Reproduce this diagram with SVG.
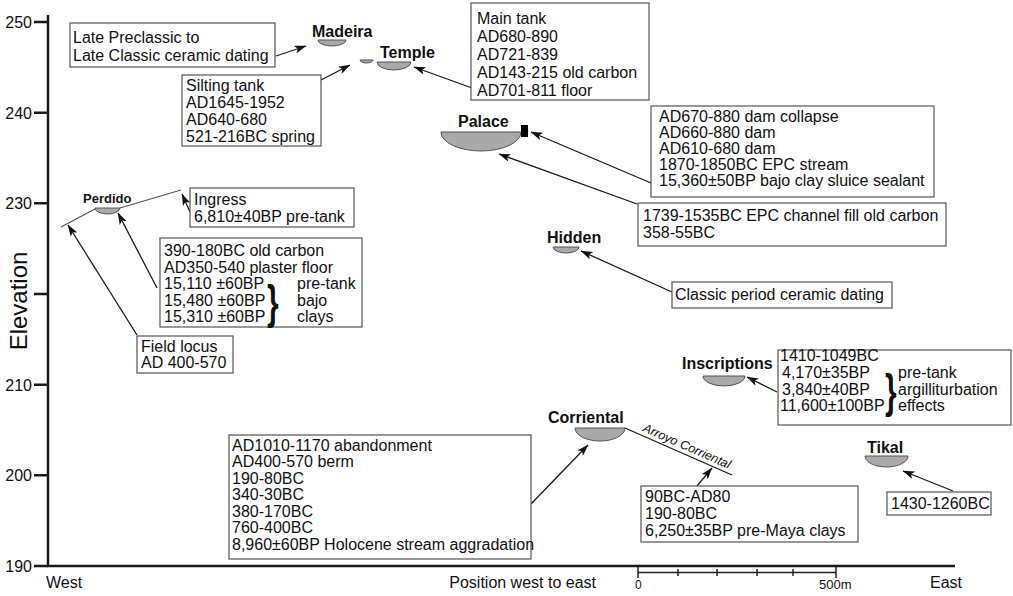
<svg xmlns="http://www.w3.org/2000/svg" width="1013" height="596" viewBox="0 0 1013 596">
<defs>
<style>
text{font-family:"Liberation Sans",Arial,sans-serif;font-size:16px;fill:#111}
.b{font-weight:bold}
.br{font-weight:bold;font-size:46px}
.box{fill:#fff;stroke:#555;stroke-width:1.2}
.tank{fill:#a9a9a9;stroke:#555;stroke-width:1}
.ax{stroke:#1a1a1a;stroke-width:2.5;fill:none}
.c{stroke:#1a1a1a;stroke-width:1.3;fill:none}
.a{marker-end:url(#ah)}
.tl{text-anchor:end}
</style>
<marker id="ah" viewBox="0 0 12 8" refX="11.5" refY="4" markerWidth="12" markerHeight="8" markerUnits="userSpaceOnUse" orient="auto">
<path d="M0,0 L12,4 L0,8 L3,4 Z" fill="#111"/>
</marker>
</defs>

<g id="axes">
<path class="ax" d="M48,15 V566 H955"/>
<path class="ax" d="M34,22 H48 M34,112.7 H48 M34,203.3 H48 M34,294 H48 M34,384.7 H48 M34,475.3 H48 M34,566 H48"/>
<text class="tl" x="32" y="28">250</text>
<text class="tl" x="32" y="118.7">240</text>
<text class="tl" x="32" y="209.3">230</text>
<text class="tl" x="32" y="390.7">210</text>
<text class="tl" x="32" y="481.3">200</text>
<text class="tl" x="32" y="572">190</text>
<text x="0" y="0" transform="translate(27,301) rotate(-90)" style="font-size:24px;text-anchor:middle">Elevation</text>
<text x="46" y="588">West</text>
<text class="tl" x="596" y="588">Position west to east</text>
<text x="930" y="588">East</text>
<g id="scalebar">
<path d="M638,572.5 H836 M638,567 V578 M836,567 V578 M678,569 V576 M717,569 V576 M757,569 V576 M793,569 V576" stroke="#222" stroke-width="1.5" fill="none"/>
<text x="635" y="589" style="font-size:12px">0</text>
<text x="819" y="589" style="font-size:13px">500m</text>
</g>
</g>

<g id="connectors">
<line class="c a" x1="276" y1="56" x2="306" y2="46"/>
<line class="c a" x1="321" y1="80" x2="350" y2="65"/>
<line class="c a" x1="472" y1="88" x2="414" y2="67"/>
<line class="c a" x1="651" y1="183" x2="531" y2="132"/>
<line class="c a" x1="637" y1="204" x2="499" y2="154"/>
<line class="c a" x1="672" y1="292" x2="581" y2="251"/>
<line class="c a" x1="190" y1="212" x2="182" y2="194"/>
<line class="c a" x1="157" y1="288" x2="118" y2="213"/>
<line class="c a" x1="137" y1="335" x2="68" y2="225"/>
<line class="c a" x1="777" y1="392" x2="747" y2="377"/>
<line class="c a" x1="953" y1="491" x2="903" y2="471"/>
<line class="c a" x1="531" y1="504" x2="588" y2="445"/>
<line class="c a" x1="697" y1="486" x2="712" y2="468"/>
</g>

<g id="madeira">
<text class="b" x="312" y="37">Madeira</text>
<path class="tank" d="M318,40 A14,6 0 0 0 346,40 Z"/>
</g>
<g id="temple">
<text class="b" x="380" y="58">Temple</text>
<path class="tank" d="M360,60 A6.5,3 0 0 0 373,60 Z"/>
<path class="tank" d="M377,62 A17,8 0 0 0 411,62 Z"/>
</g>
<g id="palace">
<text class="b" x="458" y="127">Palace</text>
<path class="tank" d="M441,132 A40,19 0 0 0 521,132 Z"/>
<rect x="521" y="125" width="7" height="12" fill="#000"/>
</g>
<g id="hidden">
<text class="b" x="547" y="243">Hidden</text>
<path class="tank" d="M553,247 A13,6 0 0 0 579,247 Z"/>
</g>
<g id="perdido">
<path d="M61,227 L95,209 M120,208 L181,190" fill="none" stroke="#555" stroke-width="1.2"/>
<text class="b" x="83" y="203" style="font-size:13px">Perdido</text>
<path class="tank" d="M95,208 A12.5,6 0 0 0 120,208 Z"/>
</g>
<g id="inscriptions">
<text class="b" x="682" y="369">Inscriptions</text>
<path class="tank" d="M703,376 A21,10 0 0 0 745,376 Z"/>
</g>
<g id="tikal">
<text class="b" x="867" y="453">Tikal</text>
<path class="tank" d="M865,456 A21.5,11 0 0 0 908,456 Z"/>
</g>
<g id="corriental">
<text class="b" x="548" y="423">Corriental</text>
<path class="tank" d="M575,428 A25,13 0 0 0 625,428 Z"/>
<line x1="625" y1="428" x2="732" y2="475" stroke="#1a1a1a" stroke-width="1.3"/>
<text x="0" y="0" transform="translate(642,431) rotate(23.7)" style="font-size:12.5px;font-style:italic">Arroyo Corriental</text>
</g>

<g id="box-late-preclassic">
<rect class="box" x="70" y="23" width="205" height="44"/>
<text x="73" y="43">Late Preclassic to</text>
<text x="73" y="61">Late Classic ceramic dating</text>
</g>
<g id="box-silting">
<rect class="box" x="182" y="75" width="139" height="71"/>
<text x="186" y="91">Silting tank</text>
<text x="186" y="108">AD1645-1952</text>
<text x="186" y="125">AD640-680</text>
<text x="186" y="142">521-216BC spring</text>
</g>
<g id="box-main-tank">
<rect class="box" x="471" y="3" width="178" height="97"/>
<text x="477" y="24">Main tank</text>
<text x="477" y="42">AD680-890</text>
<text x="477" y="60">AD721-839</text>
<text x="477" y="78">AD143-215 old carbon</text>
<text x="477" y="96">AD701-811 floor</text>
</g>
<g id="box-palace-dam">
<rect class="box" x="651" y="106" width="283" height="91"/>
<text x="659" y="122">AD670-880 dam collapse</text>
<text x="659" y="138">AD660-880 dam</text>
<text x="659" y="154">AD610-680 dam</text>
<text x="659" y="170">1870-1850BC EPC stream</text>
<text x="659" y="186">15,360±50BP bajo clay sluice sealant</text>
</g>
<g id="box-palace-channel">
<rect class="box" x="638" y="203" width="308" height="43"/>
<text x="643" y="221">1739-1535BC EPC channel fill old carbon</text>
<text x="643" y="238">358-55BC</text>
</g>
<g id="box-hidden">
<rect class="box" x="672" y="282" width="220" height="26"/>
<text x="675" y="300">Classic period ceramic dating</text>
</g>
<g id="box-ingress">
<rect class="box" x="190" y="188" width="164" height="39"/>
<text x="194" y="205">Ingress</text>
<text x="194" y="222">6,810±40BP pre-tank</text>
</g>
<g id="box-perdido">
<rect class="box" x="160" y="238" width="202" height="89"/>
<text x="164" y="256">390-180BC old carbon</text>
<text x="164" y="273">AD350-540 plaster floor</text>
<text x="164" y="289">15,110 ±60BP</text>
<text x="164" y="306">15,480 ±60BP</text>
<text x="164" y="322">15,310 ±60BP</text>
<text class="br" x="0" y="0" transform="translate(267,318) scale(0.65,1)">}</text>
<text x="297" y="289">pre-tank</text>
<text x="297" y="306">bajo</text>
<text x="297" y="322">clays</text>
</g>
<g id="box-field-locus">
<rect class="box" x="137" y="336" width="96" height="37"/>
<text x="141" y="352">Field locus</text>
<text x="141" y="368">AD 400-570</text>
</g>
<g id="box-inscriptions">
<rect class="box" x="778" y="350" width="233" height="75"/>
<text x="780" y="361">1410-1049BC</text>
<text x="782" y="378">4,170±35BP</text>
<text x="782" y="395">3,840±40BP</text>
<text x="780" y="411">11,600±100BP</text>
<text class="br" x="0" y="0" transform="translate(885,407) scale(0.65,1)">}</text>
<text x="898" y="378">pre-tank</text>
<text x="898" y="395">argilliturbation</text>
<text x="898" y="411">effects</text>
</g>
<g id="box-tikal">
<rect class="box" x="887" y="492" width="104" height="23"/>
<text x="891" y="509">1430-1260BC</text>
</g>
<g id="box-corriental">
<rect class="box" x="229" y="435" width="302" height="124"/>
<text x="232" y="451">AD1010-1170 abandonment</text>
<text x="232" y="467">AD400-570 berm</text>
<text x="232" y="484">190-80BC</text>
<text x="232" y="500">340-30BC</text>
<text x="232" y="517">380-170BC</text>
<text x="232" y="533">760-400BC</text>
<text x="232" y="550">8,960±60BP Holocene stream aggradation</text>
</g>
<g id="box-arroyo">
<rect class="box" x="641" y="486" width="217" height="56"/>
<text x="645" y="502">90BC-AD80</text>
<text x="645" y="519">190-80BC</text>
<text x="645" y="536">6,250±35BP pre-Maya clays</text>
</g>
</svg>
